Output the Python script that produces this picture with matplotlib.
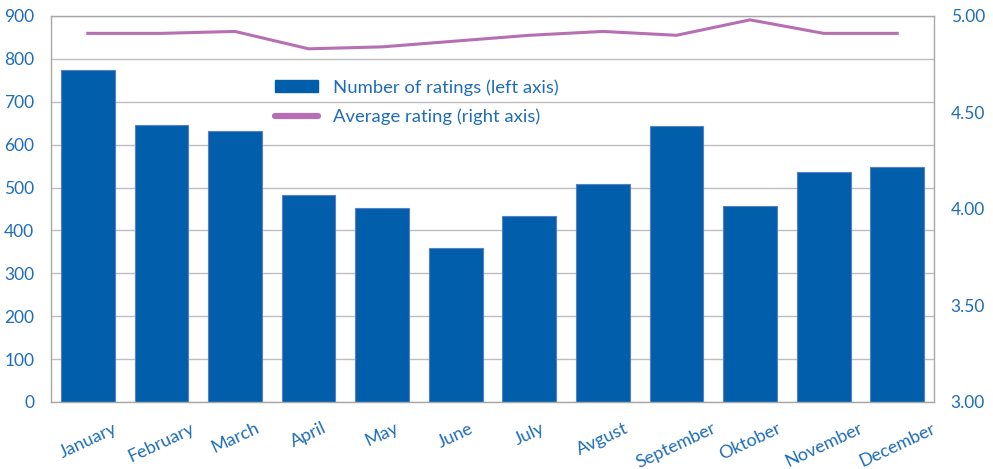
import matplotlib
matplotlib.use("Agg")
import matplotlib.pyplot as plt
from matplotlib.lines import Line2D
from matplotlib.patches import Patch

months = ["January", "February", "March", "April", "May", "June",
          "July", "Avgust", "September", "Oktober", "November", "December"]
num_ratings = [774, 646, 632, 483, 452, 360, 433, 509, 643, 457, 537, 547]
avg_rating = [4.91, 4.91, 4.92, 4.83, 4.84, 4.87, 4.90, 4.92, 4.90, 4.98, 4.91, 4.91]

left_ticks = [0, 100, 200, 300, 400, 500, 600, 700, 800, 900]
right_ticks = [3.00, 3.50, 4.00, 4.50, 5.00]

BAR = "#005EAB"
BAR_EDGE = "#5B7FC4"
LINE = "#B56FB2"
TEXT = "#1F6DB8"
GRID = "#BDBDBD"

plt.rcParams["font.family"] = ["Lato", "DejaVu Sans"]

fig = plt.figure(figsize=(9.93, 4.69), dpi=100)
ax = fig.add_axes([0.0514, 0.1429, 0.8892, 0.8230])
x = list(range(len(months)))
ax.bar(x, num_ratings, width=0.73, color=BAR, edgecolor=BAR_EDGE,
       linewidth=0.8, zorder=2)
ax.set_xlim(-0.5, len(months) - 0.5)
ax.set_ylim(0, 900)
ax.set_yticks(left_ticks)
ax.set_yticklabels([str(v) for v in left_ticks])
ax.yaxis.grid(True, color=GRID, linewidth=1.0, zorder=0)
ax.set_axisbelow(True)
ax.set_xticks(x)
ax.set_xticklabels(months, rotation=25, ha="center")
ax.tick_params(axis="both", length=0, colors=TEXT, labelsize=12.5)
ax.tick_params(axis="x", labelsize=13)
ax.tick_params(axis="y", pad=12)
ax.tick_params(axis="x", pad=13)
for s in ax.spines.values():
    s.set_color("#A8A8A8")
    s.set_linewidth(1.0)

ax2 = ax.twinx()
ax2.plot(x, avg_rating, color=LINE, linewidth=2.2, zorder=3)
ax2.set_ylim(3.0, 5.0)
ax2.set_yticks(right_ticks)
ax2.set_yticklabels([f"{v:.2f}" for v in right_ticks])
ax2.tick_params(axis="y", length=0, colors=TEXT, labelsize=12.5, pad=12)
for s in ax2.spines.values():
    s.set_visible(False)

handles = [Patch(facecolor=BAR, edgecolor=BAR),
           Line2D([0], [0], color=LINE, linewidth=4.5, solid_capstyle="round")]
labels = ["Number of ratings (left axis)", "Average rating (right axis)"]
leg = ax.legend(handles, labels, loc="upper left", bbox_to_anchor=(0.237, 0.875),
                frameon=False, fontsize=13.3, handlelength=2.35, handleheight=0.55,
                handletextpad=0.8, labelspacing=0.72, borderpad=0.3)
for t in leg.get_texts():
    t.set_color(TEXT)

fig.savefig("out.png", dpi=100)
